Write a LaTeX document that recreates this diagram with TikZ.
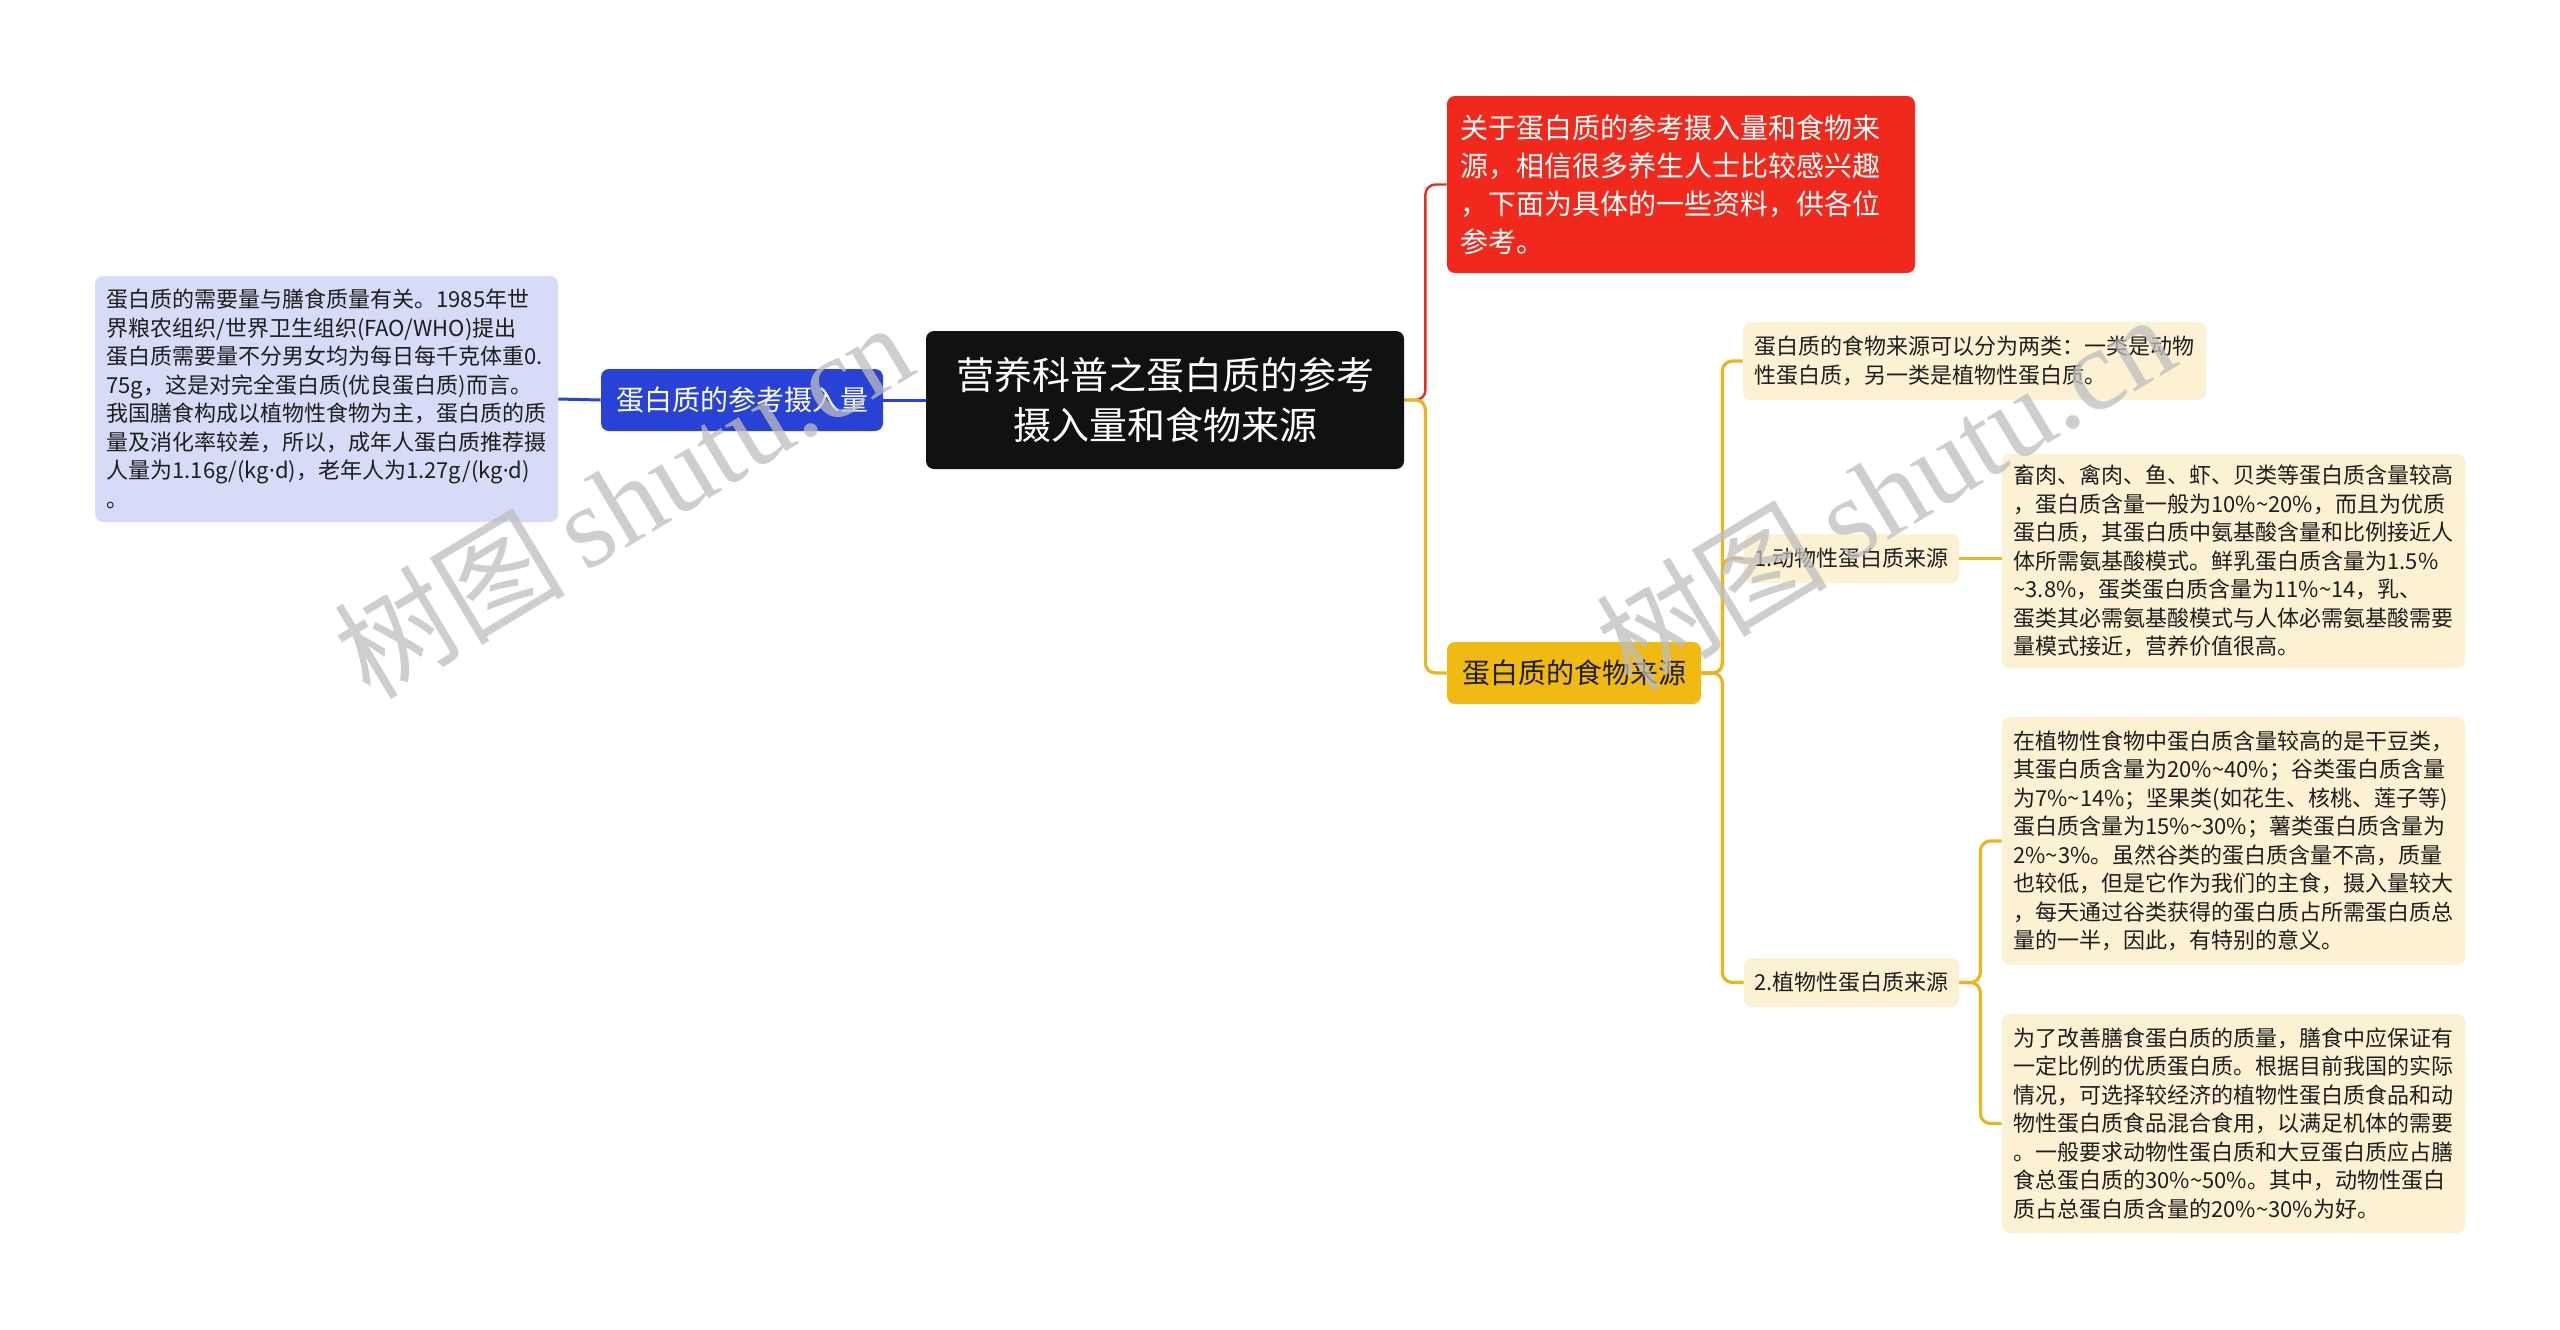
\documentclass[tikz,border=0pt]{standalone}
\usepackage{fontspec}
\setmainfont{Noto Sans CJK SC}
\newfontfamily\wmcjk{Noto Sans CJK SC}
\newfontfamily\wmlat{Liberation Serif}
\newfontfamily\latfont{Noto Sans}
\newcommand{\tl}{\textasciitilde}
\newcommand{\mdot}{{\latfont ·}}
\definecolor{cblack}{RGB}{17,17,17}
\definecolor{cblue}{RGB}{41,66,214}
\definecolor{clav}{RGB}{214,219,247}
\definecolor{cred}{RGB}{241,41,28}
\definecolor{cyel}{RGB}{240,186,18}
\definecolor{ccream}{RGB}{253,241,211}
\definecolor{ctext}{RGB}{30,30,30}
\definecolor{cyline}{RGB}{232,183,30}
\definecolor{crline}{RGB}{226,46,36}
\definecolor{cwm}{RGB}{190,190,190}
\begin{document}
\begin{tikzpicture}[x=0.5pt,y=-0.5pt,
  box/.style={rounded corners=4pt, inner sep=0pt, align=center},
  rootbox/.style={box, fill=cblack, text=white, minimum width=239pt, minimum height=69pt, font=\fontsize{19}{25}\selectfont},
  bluebox/.style={box, fill=cblue, text=white, minimum width=141pt, minimum height=31pt, font=\fontsize{14}{18}\selectfont},
  yelbox/.style={box, fill=cyel, text=ctext, minimum width=127pt, minimum height=31pt, font=\fontsize{14}{18}\selectfont},
  redbox/.style={rounded corners=4pt, fill=cred, text=white, inner xsep=6.5pt, inner ysep=0pt, text width=221pt, minimum height=88.5pt, align=left, font=\fontsize{14}{19}\selectfont},
  txtbox/.style={rounded corners=4pt, fill=#1, text=ctext, inner xsep=5.75pt, inner ysep=0pt, text width=220pt, align=left, font=\fontsize{11}{14.25}\selectfont},
  lblbox/.style={box, fill=ccream, text=ctext, minimum width=107.5pt, minimum height=24.5pt, font=\fontsize{11}{14}\selectfont},
  bline/.style={draw=cblue, line width=1.5pt},
  rline/.style={draw=crline, line width=1.2pt, rounded corners=5pt},
  yline/.style={draw=cyline, line width=1.6pt, rounded corners=5pt},
  wm/.style={text=cwm, opacity=0.75, rotate=31, anchor=base west, inner sep=0pt}
]
\useasboundingbox (0,0) rectangle (2560,1329);
\fill[white] (0,0) rectangle (2560,1329);

% nodes
\node[rootbox] (root) at (1165,400) {营养科普之蛋白质的参考\\摄入量和食物来源};
\node[bluebox] (ref) at (742,400) {蛋白质的参考摄入量};
\node[txtbox=clav, minimum height=123pt] (refd) at (326.5,399) {蛋白质的需要量与膳食质量有关。1985年世\\界粮农组织/世界卫生组织(FAO/WHO)提出\\蛋白质需要量不分男女均为每日每千克体重0.\\75g，这是对完全蛋白质(优良蛋白质)而言。\\我国膳食构成以植物性食物为主，蛋白质的质\\量及消化率较差，所以，成年人蛋白质推荐摄\\人量为1.16g/(kg\mdot d)，老年人为1.27g/(kg\mdot d)\\。};
\node[redbox] (intro) at (1681,184.5) {关于蛋白质的参考摄入量和食物来\\源，相信很多养生人士比较感兴趣\\，下面为具体的一些资料，供各位\\参考。};
\node[yelbox] (src) at (1574,673) {蛋白质的食物来源};
\node[txtbox=ccream, minimum height=39pt] (two) at (1974.5,361) {蛋白质的食物来源可以分为两类：一类是动物\\性蛋白质，另一类是植物性蛋白质。};
\node[lblbox] (ani) at (1851.5,558.5) {1.动物性蛋白质来源};
\node[txtbox=ccream, minimum height=107pt] (anid) at (2233.5,561) {畜肉、禽肉、鱼、虾、贝类等蛋白质含量较高\\，蛋白质含量一般为10\%\tl20\%，而且为优质\\蛋白质，其蛋白质中氨基酸含量和比例接近人\\体所需氨基酸模式。鲜乳蛋白质含量为1.5\%\\\tl3.8\%，蛋类蛋白质含量为11\%\tl14，乳、\\蛋类其必需氨基酸模式与人体必需氨基酸需要\\量模式接近，营养价值很高。};
\node[lblbox] (pla) at (1851.5,982.5) {2.植物性蛋白质来源};
\node[txtbox=ccream, minimum height=124pt] (plad1) at (2233.5,841) {在植物性食物中蛋白质含量较高的是干豆类，\\其蛋白质含量为20\%\tl40\%；谷类蛋白质含量\\为7\%\tl14\%；坚果类(如花生、核桃、莲子等)\\蛋白质含量为15\%\tl30\%；薯类蛋白质含量为\\2\%\tl3\%。虽然谷类的蛋白质含量不高，质量\\也较低，但是它作为我们的主食，摄入量较大\\，每天通过谷类获得的蛋白质占所需蛋白质总\\量的一半，因此，有特别的意义。};
\node[txtbox=ccream, minimum height=109.5pt] (plad2) at (2233.5,1123.5) {为了改善膳食蛋白质的质量，膳食中应保证有\\一定比例的优质蛋白质。根据目前我国的实际\\情况，可选择较经济的植物性蛋白质食品和动\\物性蛋白质食品混合食用，以满足机体的需要\\。一般要求动物性蛋白质和大豆蛋白质应占膳\\食总蛋白质的30\%\tl50\%。其中，动物性蛋白\\质占总蛋白质含量的20\%\tl30\%为好。};

% connectors
\draw[bline] (ref.east) -- (root.west);
\draw[bline] (refd.east) -- (ref.west);
\draw[rline] (root.east) -- ++(21,0) |- (intro.west);
\draw[yline] (root.east) -- ++(21,0) |- (src.west);
\draw[yline] (src.east) -- ++(21,0) |- (two.west);
\draw[yline] (src.east) -- ++(21,0) |- (ani.west);
\draw[yline] (src.east) -- ++(21,0) |- (pla.west);
\draw[yline] (ani.east) -- (ani.east -| anid.west);
\draw[yline] (pla.east) -- ++(21,0) |- (plad1.west);
\draw[yline] (pla.east) -- ++(21,0) |- (plad2.west);

% watermarks
\node[wm] (wm1) at (370,702) {\fontsize{58}{58}\selectfont\wmcjk 树图\,\wmlat shutu.cn};
\node[wm] (wm2) at (1632,694) {\fontsize{58}{58}\selectfont\wmcjk 树图\,\wmlat shutu.cn};
\end{tikzpicture}
\end{document}
